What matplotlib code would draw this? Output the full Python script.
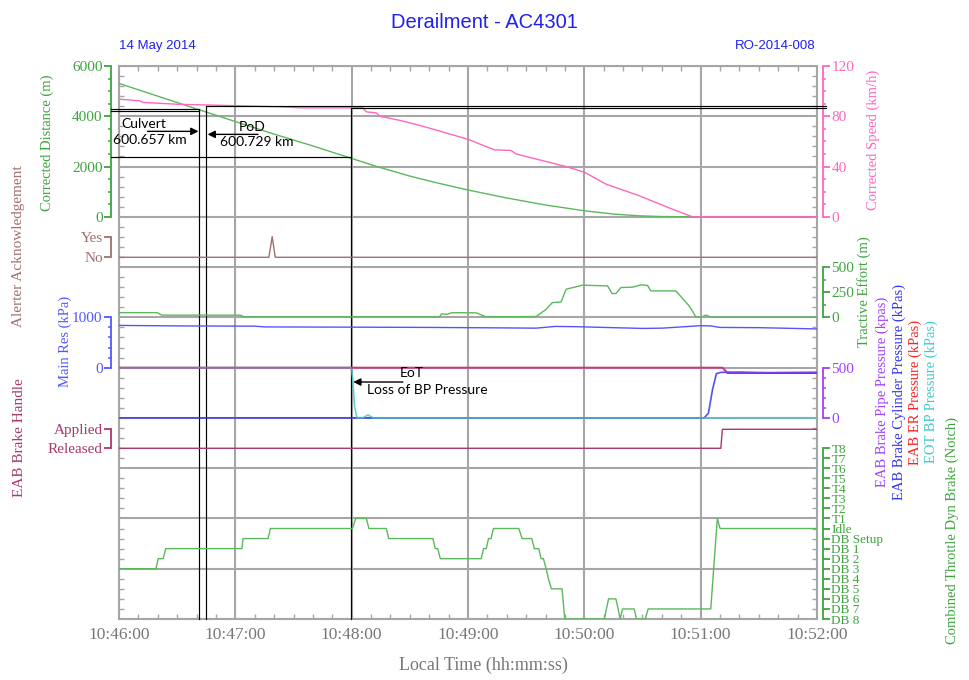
import matplotlib
matplotlib.use('Agg')
import matplotlib.pyplot as plt
from matplotlib.ticker import FixedLocator, MultipleLocator

# ---------------- data (time in seconds after 10:46:00) ----------------
time_labels = ['10:46:00', '10:47:00', '10:48:00', '10:49:00', '10:50:00', '10:51:00', '10:52:00']

dist_t = [0, 20, 41, 60, 80, 100, 119, 133, 150, 165, 180, 200, 220, 240, 255, 268, 280, 295, 360]
dist_m = [5307, 4800, 4267, 3790, 3290, 2820, 2347, 2000, 1620, 1333, 1067, 750, 470, 240, 110, 40, 10, 0, 0]

speed_t = [0, 10.8, 12.4, 29.7, 50.3, 82.9, 94.9, 125.8, 127.6, 132.7, 134.4, 144.7, 155, 167,
           180.8, 185.9, 193.6, 202.2, 204.8, 215.1, 230.6, 240, 251.2, 268.3, 285.5, 295.8, 360]
speed_kmh = [93.6, 92.3, 91, 89.6, 88.8, 87.5, 86.7, 86.7, 83.5, 82.7, 80, 76.8, 72.8, 67.5,
             61.3, 58, 53.3, 52.8, 50, 46, 40, 35.5, 26, 16.8, 6, 0, 0]

alert_t = [0, 77.3, 79.0, 80.6, 360]
alert_v = [0, 0, 1, 0, 0]
alert_labels = ['No', 'Yes']

te_t = [0, 19.6, 22.1, 62.3, 64.9, 165.3, 166.4, 168.9, 172.0, 184.2, 189.4, 215.1, 220.3, 223.5,
        228.0, 230.6, 239.1, 252.0, 254.3, 256.3, 258.9, 264.8, 269.2, 272.6, 274.3, 287.2,
        294.1, 297.5, 300.1, 302.7, 305.3, 360]
te_v = [47, 47, 22, 22, 5, 5, 35, 30, 47, 45, 5, 8, 80, 147, 153, 280, 320, 313, 237, 237, 297,
        300, 323, 318, 263, 263, 113, 7, 0, 23, 3, 3]

mr_t = [0, 30, 70, 75, 120, 160, 200, 215, 225, 235, 250, 270, 280, 292, 300, 305, 310, 330, 360]
mr_v = [840, 830, 825, 810, 805, 800, 790, 785, 820, 815, 800, 780, 785, 815, 835, 830, 800, 795, 770]

bp_t = [0, 311.2, 313.8, 330, 360]
bp_v = [500, 500, 455, 452, 455]
bc_t = [0, 301.8, 304.0, 306.1, 308.1, 310.4, 320, 335, 360]
bc_v = [0, 0, 47, 280, 440, 453, 455, 448, 452]
er_t = [0, 311.2, 313.8, 360]
er_v = [500, 500, 445, 445]
eot_t = [0, 119.8, 120.6, 121.5, 122.7, 125.6, 128.4, 131.1, 360]
eot_v = [500, 500, 380, 113, 3, 0, 30, 0, 0]

handle_t = [0, 310.4, 311.2, 360]
handle_v = [0, 0, 1, 1]
handle_labels = ['Released', 'Applied']

notch_labels = ['DB 8', 'DB 7', 'DB 6', 'DB 5', 'DB 4', 'DB 3', 'DB 2', 'DB 1', 'DB Setup', 'Idle',
                'T1', 'T2', 'T3', 'T4', 'T5', 'T6', 'T7', 'T8']
notch_t = [0, 19.1, 20.2, 22.8, 24.1, 63.4, 64.0, 76.9, 78.1, 120.4, 122.1, 127.6, 128.9, 137.9,
           139.1, 161.9, 163.1, 164.4, 165.7, 186.8, 188.0, 189.4, 190.6, 191.9, 193.1, 206.2,
           207.9, 212.9, 214.2, 216.5, 217.7, 218.9, 220.3, 221.5, 223.0, 228.5, 229.9, 250.3,
           252.5, 256.3, 258.5, 259.7, 265.7, 266.9, 271.4, 272.9, 305.2, 308.6, 310.0, 360]
notch_v = [5, 5, 6, 6, 7, 7, 8, 8, 9, 9, 10, 10, 9, 9,
           8, 8, 7, 7, 6, 6, 7, 7, 8, 8, 9, 9,
           8, 8, 7, 7, 6, 6, 5, 4, 3, 3, 0, 0,
           2, 2, 0, 1, 1, 0, 0, 1, 1, 10, 9, 9]

# annotation marks (times in s, values in km/h on the speed scale)
culvert_t, pod_t, eot_mark_t = 41.4, 45.0, 119.8

# ---------------- figure ----------------
SERIF = 'Liberation Serif'
SANS = 'Liberation Sans'
W, H = 969, 680
L, R, T, B = 119, 817, 66, 619
NB = 11
fig = plt.figure(figsize=(W / 100, H / 100), dpi=100)
ax = fig.add_axes([L / W, 1 - B / H, (R - L) / W, (B - T) / H])
ax.set_xlim(0, 360)
ax.set_ylim(0, NB)
GRID = '#a6a6a6'

def fx(px):
    return (px - L) / (R - L)

def fy(py):
    return (B - py) / (B - T)

def sub_axis(side, v0, u0, v1, u1, lo, hi, color, major, minor=None, labels=None,
             outward=6, fs=11, tick_color=None):
    a = ax.twinx()
    slope = (v1 - v0) / (u1 - u0)
    a.set_ylim(v0 - u0 * slope, v0 + (NB - u0) * slope)
    a.set_xlim(0, 360)
    a.patch.set_visible(False)
    for s in a.spines.values():
        s.set_visible(False)
    sp = a.spines[side]
    sp.set_visible(True)
    sp.set_bounds(lo, hi)
    sp.set_position(('outward', outward * 0.72))
    sp.set_color(color)
    sp.set_linewidth(1.3)
    if side == 'left':
        a.yaxis.tick_left()
        a.yaxis.set_label_position('left')
    else:
        a.yaxis.tick_right()
        a.yaxis.set_label_position('right')
    a.yaxis.set_major_locator(FixedLocator(major))
    if minor is not None:
        a.yaxis.set_minor_locator(FixedLocator(minor))
    if labels is not None:
        a.set_yticklabels(labels)
    a.tick_params(axis='y', which='major', length=5, width=1.3, color=color, pad=1,
                  labelcolor=tick_color or color, labelsize=fs)
    a.tick_params(axis='y', which='minor', length=2.5, width=1.1, color=color)
    for lab in a.get_yticklabels():
        lab.set_fontfamily(SERIF)
    return a

def set_label(a, text, px, py, color, fs=10.5):
    a.set_ylabel(text, color=color, fontsize=fs, fontfamily=SERIF, rotation=90)
    a.yaxis.label.set_va('center')
    a.yaxis.label.set_ha('center')
    a.yaxis.set_label_coords(fx(px), fy(py))

GREEN_L = '#5cb85c'
GREEN_T = '#3fa33f'
PINK = '#ff66c0'
BROWN = '#a07070'
BLUE_MR = '#5555ff'
PURPLE = '#a040ff'
BLUE_BC = '#3333ee'
RED = '#ff2020'
CYAN = '#40c8c8'
CRIMSON = '#a8386c'
LW = 1.0

# distance (left) and speed (right)
axd = sub_axis('left', 0, 8, 6000, 11, 0, 6000, GREEN_T, [0, 2000, 4000, 6000],
               [v for v in range(500, 6000, 500) if v % 2000], outward=8)
axd.plot(dist_t, dist_m, color=GREEN_L, lw=LW)
set_label(axd, 'Corrected Distance (m)', 47, 143, GREEN_T)

axs = sub_axis('right', 0, 8, 120, 11, 0, 120, PINK, [0, 40, 80, 120],
               [v for v in range(10, 120, 10) if v % 40], outward=6)
axs.plot(speed_t, speed_kmh, color=PINK, lw=LW)
set_label(axs, 'Corrected Speed (km/h)', 873, 140, PINK)

# alerter
axa = sub_axis('left', 0, (B - 257.3) / 50.27, 1, (B - 236.7) / 50.27, 0, 1, BROWN, [0, 1],
               labels=alert_labels, outward=8)
axa.plot(alert_t, alert_v, color=BROWN, lw=LW)
set_label(axa, 'Alerter Acknowledgement', 18, 246, BROWN, fs=11)

# tractive effort
axt = sub_axis('right', 0, 6, 500, 7, 0, 500, GREEN_T, [0, 250, 500], [125, 375], outward=6)
axt.plot(te_t, te_v, color=GREEN_L, lw=LW)
set_label(axt, 'Tractive Effort (m)', 864, 292, GREEN_T)

# main reservoir
axm = sub_axis('left', 0, 5, 1000, 6, 0, 1000, BLUE_MR, [0, 1000], [200, 400, 600, 800], outward=8)
axm.plot(mr_t, mr_v, color=BLUE_MR, lw=LW)
set_label(axm, 'Main Res (kPa)', 65, 341, BLUE_MR)

# brake pipe group
axb = sub_axis('right', 0, 4, 500, 5, 0, 500, PURPLE, [0, 500], [100, 200, 300, 400], outward=6)
axb.plot(er_t, er_v, color=RED, lw=1.2)
axb.plot(bc_t, bc_v, color=BLUE_BC, lw=1.2, alpha=0.85)
axb.plot(eot_t, eot_v, color=CYAN, lw=1.2, alpha=0.8)
axb.plot(bp_t, bp_v, color=PURPLE, lw=1.2, alpha=0.6)
set_label(axb, 'EAB Brake Pipe Pressure (kpas)', 882, 392, PURPLE)
for txt, px, col in [('EAB Brake Cylinder Pressure (kPas)', 899, BLUE_BC),
                     ('EAB ER Pressure (kPas)', 915, RED),
                     ('EOT BP Pressure (kPas)', 931, CYAN)]:
    ax.text(fx(px), fy(392), txt, transform=ax.transAxes, rotation=90, color=col,
            fontsize=10.5, fontfamily=SERIF, ha='center', va='center', clip_on=False)

# brake handle
axh = sub_axis('left', 0, (B - 448.3) / 50.27, 1, (B - 429.3) / 50.27, 0, 1, CRIMSON, [0, 1],
               labels=handle_labels, outward=8)
axh.plot(handle_t, handle_v, color=CRIMSON, lw=LW)
set_label(axh, 'EAB Brake Handle', 19, 438, CRIMSON, fs=11)

# throttle / dynamic brake notch
axn = sub_axis('right', 0, 0, 17, 3.4, 0, 17, GREEN_T, list(range(18)), labels=notch_labels,
               outward=6, fs=9.5)
axn.plot(notch_t, notch_v, color=GREEN_L, lw=LW)
set_label(axn, 'Combined Throttle Dyn Brake (Notch)', 952, 531, GREEN_T)

# ---------------- main frame, grid, ticks ----------------
ax.set_xticks(range(0, 361, 60))
ax.set_xticklabels(time_labels)
ax.set_yticks(range(0, NB + 1))
ax.set_yticklabels([])
ax.xaxis.set_minor_locator(MultipleLocator(10))
ax.yaxis.set_minor_locator(MultipleLocator(0.2))
ax.grid(True, which='major', color=GRID, lw=1.5)
ax.tick_params(which='major', length=0, pad=6)
ax.tick_params(axis='x', which='major', labelsize=12.5, labelcolor='#777777')
ax.tick_params(which='minor', direction='in', length=3.5, width=1, color=GRID,
               top=True, bottom=True, left=True, right=True)
for lab in ax.get_xticklabels():
    lab.set_fontfamily(SERIF)
for s in ax.spines.values():
    s.set_color(GRID)
    s.set_linewidth(1.5)

# ---------------- annotations ----------------
ybot = axs.get_ylim()[0]
lk = dict(color='black', lw=0.85, clip_on=False, zorder=5)
axs.plot([-4.1, culvert_t], [85.8, 85.8], **lk)
axs.plot([-4.1, culvert_t], [83.8, 83.8], **lk)
axs.plot([culvert_t, culvert_t], [85.8, ybot], **lk)
axs.plot([pod_t, 364.5], [88.4, 88.4], **lk)
axs.plot([pod_t, pod_t], [88.4, ybot], **lk)
axs.plot([eot_mark_t, 364.5], [86.4, 86.4], **lk)
axs.plot([eot_mark_t, eot_mark_t], [86.4, ybot], **lk)
axs.plot([-4.1, eot_mark_t], [47.2, 47.2], **lk)

ANN = dict(fontfamily='Lato', fontsize=10, color='black', ha='center', va='center', zorder=6)
arr = dict(arrowstyle='-|>', color='black', lw=1.0, mutation_scale=11, shrinkA=0, shrinkB=0)
axs.text(12.9, 74, 'Culvert', **ANN)
axs.text(15.8, 61.3, '600.657 km', **ANN)
axs.annotate('', xy=(41.0, 68), xytext=(14.7, 68), arrowprops=arr)
axs.text(68.5, 71.5, 'PoD', **ANN)
axs.text(70.9, 59.5, '600.729 km', **ANN)
axs.annotate('', xy=(45.7, 65.6), xytext=(71.7, 65.6), arrowprops=arr)
axb.text(150.9, 447, 'EoT', **ANN)
axb.text(159.1, 280, 'Loss of BP Pressure', **ANN)
axb.annotate('', xy=(120.8, 357), xytext=(146.4, 357), arrowprops=arr)

# ---------------- titles ----------------
fig.text(484 / W, 1 - 23 / H, 'Derailment - AC4301', color='#2020ee', fontsize=14.5,
         fontfamily=SANS, ha='center', va='center')
fig.text(119 / W, 1 - 46 / H, '14 May 2014', color='#2020ee', fontsize=9.5,
         fontfamily=SANS, ha='left', va='center')
fig.text(816 / W, 1 - 46 / H, 'RO-2014-008', color='#2020ee', fontsize=9.5,
         fontfamily=SANS, ha='right', va='center')
fig.text(483.5 / W, 1 - 665 / H, 'Local Time (hh:mm:ss)', color='#777777', fontsize=13,
         fontfamily=SERIF, ha='center', va='center')

fig.savefig('out.png', dpi=100)
